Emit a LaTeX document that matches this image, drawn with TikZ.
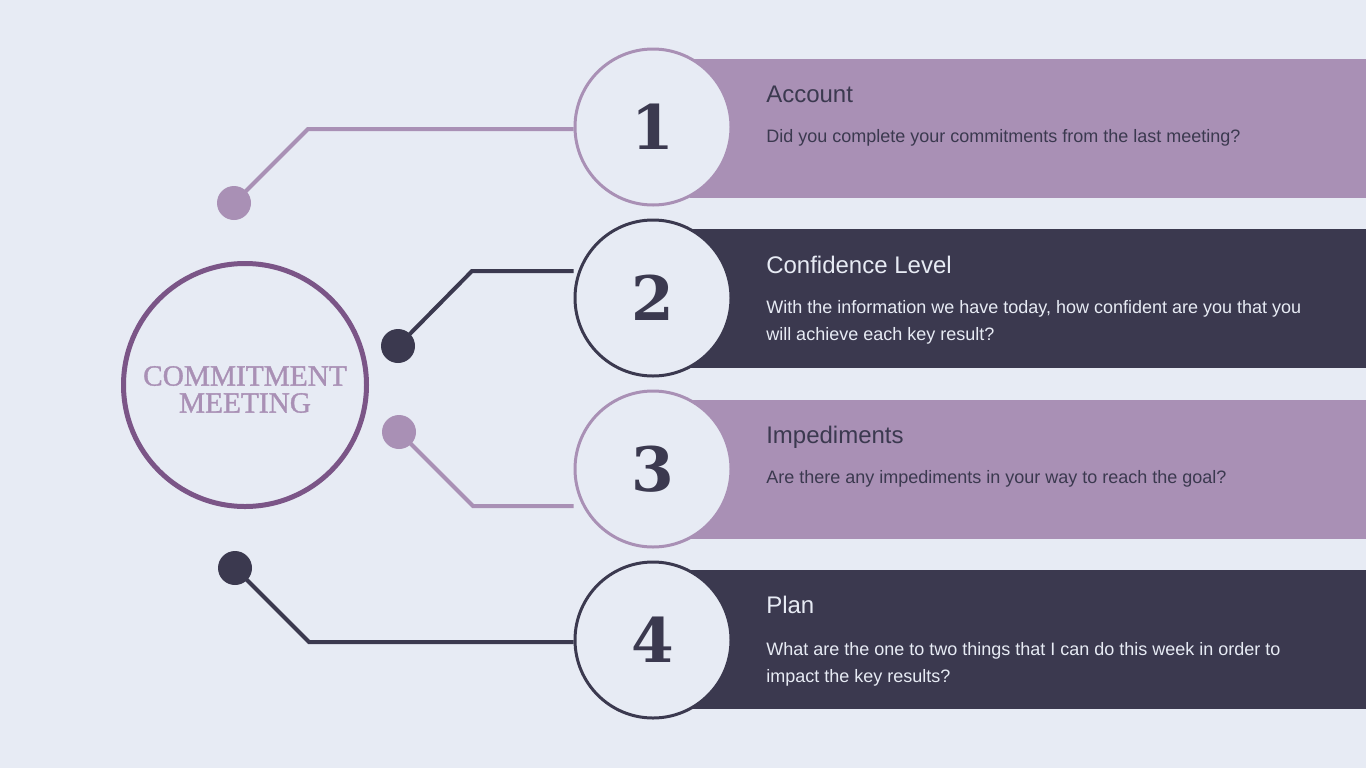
\documentclass[tikz,border=0pt]{standalone}
\usepackage{fontspec}
\setmainfont{Liberation Sans}
\newfontfamily\numfont{DejaVu Serif}
\newfontfamily\headfont[FakeBold=1.2]{Liberation Serif}
\definecolor{bgc}{HTML}{E7EBF4}
\definecolor{lilac}{HTML}{A990B5}
\definecolor{ink}{HTML}{3B394F}
\definecolor{plum}{HTML}{7B5587}
\pgfdeclarelayer{back}
\pgfsetlayers{back,main}
\begin{document}
\begin{tikzpicture}[x=0.75pt,y=-0.75pt,
 bar/.style={rectangle,anchor=north west,inner sep=0pt,minimum width=507pt,minimum height=104.25pt,draw=none},
 numcirc/.style={circle,fill=bgc,line width=2.25pt,minimum size=117pt,inner sep=0pt,font=\numfont\bfseries\fontsize{46}{48}\selectfont,text=ink},
 dot/.style={circle,inner sep=0pt,minimum size=25.5pt},
 link/.style={line width=3pt},
 ttl/.style={anchor=base west,inner sep=0pt,font=\fontsize{18}{21}\selectfont},
 body/.style={anchor=base west,inner sep=0pt,align=left,font=\fontsize{13.5}{20.25}\selectfont},
]
\useasboundingbox (0,0) rectangle (1366,768);
\begin{pgfonlayer}{back}
\fill[bgc] (0,0) rectangle (1366,768);
\node[bar,fill=lilac] (b1) at (690,59) {};
\node[bar,fill=ink] (b2) at (690,229) {};
\node[bar,fill=lilac] (b3) at (690,400) {};
\node[bar,fill=ink] (b4) at (690,570) {};
\end{pgfonlayer}

% number circles
\node[numcirc,draw=lilac] (n1) at (653,127) {1};
\node[numcirc,draw=ink] (n2) at (653,298) {2};
\node[numcirc,draw=lilac] (n3) at (653,469) {3};
\node[numcirc,draw=ink] (n4) at (653,640) {4};

% bend points
\coordinate (k1) at (308,129);
\coordinate (k2) at (472,271);
\coordinate (k3) at (473,506);
\coordinate (k4) at (309,642);

% dots
\node[dot,fill=lilac] (d1) at (234,203) {};
\node[dot,fill=ink] (d2) at (398,346) {};
\node[dot,fill=lilac] (d3) at (399,432) {};
\node[dot,fill=ink] (d4) at (235,568) {};

\begin{pgfonlayer}{back}
\draw[link,lilac] (d1.center) -- (k1) -- (k1 -| n1.west);
\draw[link,ink] (d2.center) -- (k2) -- (k2 -| n2.west);
\draw[link,lilac] (d3.center) -- (k3) -- (k3 -| n3.west);
\draw[link,ink] (d4.center) -- (k4) -- (k4 -| n4.west);
\end{pgfonlayer}

% hub
\node[circle,draw=plum,line width=3.75pt,minimum size=182.25pt,inner sep=0pt] (hub) at (245,385) {};
\node[align=center,inner sep=0pt,text=lilac,font=\headfont\fontsize{22}{20.25}\selectfont] (hubtext) at (245,389.5) {COMMITMENT\\MEETING};

% texts
\node[ttl,text=ink] (t1) at (766,102) {Account};
\node[body,text=ink] (q1) at (766,142) {Did you complete your commitments from the last meeting?};
\node[ttl,text=bgc] (t2) at (766,273) {Confidence Level};
\node[body,text=bgc] (q2) at (766,340) {With the information we have today, how confident are you that you\\will achieve each key result?};
\node[ttl,text=ink] (t3) at (766,443) {Impediments};
\node[body,text=ink] (q3) at (766,483) {Are there any impediments in your way to reach the goal?};
\node[ttl,text=bgc] (t4) at (766,613) {Plan};
\node[body,text=bgc] (q4) at (766,682) {What are the one to two things that I can do this week in order to\\impact the key results?};
\end{tikzpicture}
\end{document}
